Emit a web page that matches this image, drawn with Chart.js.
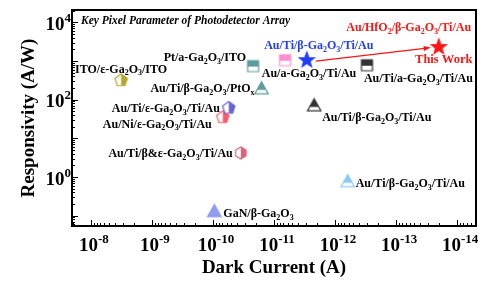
<!DOCTYPE html>
<html><head><meta charset="utf-8">
<script src="https://cdn.jsdelivr.net/npm/chart.js@4/dist/chart.umd.min.js"></script>
<style>html,body{margin:0;padding:0;background:#fff;overflow:hidden}canvas{display:block}</style>
</head><body>
<canvas id="c" width="501" height="282"></canvas>
<script>
// ---------- DATA ----------
const devices = ["ITO/ε-Ga_2O_3/ITO", "Pt/a-Ga_2O_3/ITO", "Au/Ti/β-Ga_2O_3/PtO_x", "Au/Ti/ε-Ga_2O_3/Ti/Au", "Au/Ni/ε-Ga_2O_3/Ti/Au", "Au/Ti/β&ε-Ga_2O_3/Ti/Au", "GaN/β-Ga_2O_3", "Au/a-Ga_2O_3/Ti/Au", "Au/Ti/β-Ga_2O_3/Ti/Au", "Au/HfO_2/β-Ga_2O_3/Ti/Au", "Au/Ti/a-Ga_2O_3/Ti/Au", "Au/Ti/β-Ga_2O_3/Ti/Au", "Au/Ti/β-Ga_2O_3/Ti/Au"];
const darkCurrent = [3.2e-9, 2.2e-11, 1.6e-11, 5.5e-11, 6.9e-11, 3.5e-11, 9.5e-11, 6.6e-12, 2.9e-12, 2.0e-14, 3.0e-13, 2.2e-12, 6.2e-13];
const responsivity = [316, 740, 187, 61, 35, 4.2, 0.125, 1050, 1050, 2290, 780, 68, 0.74];
const xTickExponents = [-8, -9, -10, -11, -12, -13, -14];
const yTickExponents = [0, 2, 4];
const chartTitle = "Key Pixel Parameter of Photodetector Array";
const xTitle = "Dark Current (A)";
const yTitle = "Responsivity (A/W)";
const thisWorkText = "This Work";
const thisWorkIndex = 9;
const arrowFromIndex = 8;

// ---------- STYLES ----------
const FONT = '"Liberation Serif","Times New Roman",serif';
const markerStyles = [
  {shape:'pent',  color:'#b5a52c', half:'right', size:13},
  {shape:'square',color:'#5e9c9c', half:'top',   size:11},
  {shape:'tri',   color:'#5e9c9c', half:'top',   size:15},
  {shape:'pent',  color:'#6666cc', half:'right', size:13},
  {shape:'pent',  color:'#f65c6c', half:'right', size:13},
  {shape:'hex',   color:'#e0607c', half:'right', size:12},
  {shape:'tri',   color:'#8e9cf2', half:'full',  size:15},
  {shape:'square',color:'#ff8ed0', half:'top',   size:11},
  {shape:'star',  color:'#1f3cff', half:'full',  size:16},
  {shape:'star',  color:'#ff1414', half:'full',  size:16},
  {shape:'square',color:'#333333', half:'top',   size:11},
  {shape:'tri',   color:'#333333', half:'top',   size:15},
  {shape:'tri',   color:'#8ccaf2', half:'top',   size:15}
];
const labelStyles = [
  {dx:0,   dy:-12, align:'center'},
  {dx:-7,  dy:-9,  align:'right'},
  {dx:-7,  dy:-1,  align:'right'},
  {dx:-9,  dy:0,   align:'right'},
  {dx:-11, dy:6,   align:'right'},
  {dx:-8,  dy:0,   align:'right'},
  {dx:9,   dy:1,   align:'left'},
  {dx:24,  dy:13,  align:'center'},
  {dx:12,  dy:-15, align:'center', color:'#1f3cff'},
  {dx:-30, dy:-20, align:'center', color:'#ff1414'},
  {dx:-3,  dy:13,  align:'left'},
  {dx:8,   dy:11,  align:'left'},
  {dx:8,   dy:1,   align:'left'}
];

function makeMarker(st){
  const S = Math.ceil(st.size + 4);
  const c = document.createElement('canvas'); c.width = S; c.height = S;
  const g = c.getContext('2d');
  const cx = S/2, cy = S/2, r = st.size/2;
  const p = new Path2D();
  const poly = (n, start, rad) => {
    for (let k=0;k<n;k++){ const a=(start+k*360/n)*Math.PI/180; const x=cx+rad*Math.cos(a), y=cy+rad*Math.sin(a); k?p.lineTo(x,y):p.moveTo(x,y);} p.closePath();
  };
  if (st.shape==='square') p.rect(cx-r, cy-r, 2*r, 2*r);
  else if (st.shape==='tri') { p.moveTo(cx, cy-r); p.lineTo(cx+r*0.9, cy+r*0.62); p.lineTo(cx-r*0.9, cy+r*0.62); p.closePath(); }
  else if (st.shape==='pent') poly(5, -90, r);
  else if (st.shape==='hex') poly(6, -90, r);
  else if (st.shape==='star') {
    for (let k=0;k<10;k++){ const rad = k%2? r*0.42 : r; const a=(-90+k*36)*Math.PI/180; const x=cx+rad*Math.cos(a), y=cy+rad*Math.sin(a); k?p.lineTo(x,y):p.moveTo(x,y);} p.closePath();
  }
  g.fillStyle = '#fff'; g.fill(p);
  g.save(); g.clip(p); g.fillStyle = st.color;
  if (st.half==='full') g.fillRect(0,0,S,S);
  else if (st.half==='top') g.fillRect(0,0,S, st.shape==='tri' ? cy+r*0.1 : cy+0.5);
  else if (st.half==='right') g.fillRect(cx,0,S,S);
  g.restore();
  g.strokeStyle = st.color; g.lineWidth = 1.2; g.lineJoin='miter'; g.stroke(p);
  return c;
}

function parseRich(t){
  const segs=[]; const re=/([_^])(\{[^}]*\}|.)/g; let last=0, m;
  while ((m = re.exec(t))) {
    if (m.index>last) segs.push({t:t.slice(last,m.index), k:'n'});
    let s=m[2]; if (s[0]==='{') s=s.slice(1,-1);
    segs.push({t:s, k:m[1]==='_'?'sub':'sup'}); last=re.lastIndex;
  }
  if (last<t.length) segs.push({t:t.slice(last), k:'n'});
  return segs;
}
function drawRich(ctx, text, x, y, o){
  const size=o.size, style=o.style||'', segs=parseRich(text);
  const fontFor = k => `${style} bold ${k==='n'?size:Math.round(size*(o.subScale||0.65))}px ${FONT}`;
  let w=0; segs.forEach(s=>{ctx.font=fontFor(s.k); s.w=ctx.measureText(s.t).width; w+=s.w;});
  let sx = o.align==='center'? x-w/2 : o.align==='right'? x-w : x;
  const base = y + size*0.35;
  ctx.fillStyle = o.color||'#000'; ctx.textBaseline='alphabetic'; ctx.textAlign='left';
  segs.forEach(s=>{
    ctx.font=fontFor(s.k);
    const by = s.k==='sub'? base+size*0.22 : s.k==='sup'? base-size*0.42 : base;
    ctx.fillText(s.t, sx, by); sx+=s.w;
  });
  return w;
}

const decorations = {
  id:'decorations',
  beforeDatasetsDraw(chart){
    const {ctx, chartArea:a, scales:{x, y}} = chart;
    ctx.save();
    ctx.strokeStyle='#000'; ctx.lineWidth=2;
    ctx.strokeRect(a.left, a.top, a.right-a.left, a.bottom-a.top);
    ctx.lineWidth=1;
    for (let d=-15; d<=-7; d++) for (let m=1;m<=9;m++){
      const v=m*Math.pow(10,d); if (v<x.min||v>x.max) continue;
      const px=Math.round(x.getPixelForValue(v))+0.5; const L = m===1?6:3;
      ctx.beginPath(); ctx.moveTo(px,a.bottom); ctx.lineTo(px,a.bottom-L); ctx.stroke();
    }
    for (let d=-2; d<=4; d++) for (let m=1;m<=9;m++){
      const v=m*Math.pow(10,d); if (v<y.min||v>y.max) continue;
      const py=Math.round(y.getPixelForValue(v))+0.5; const L = m===1?6:3;
      ctx.beginPath(); ctx.moveTo(a.left,py); ctx.lineTo(a.left+L,py); ctx.stroke();
    }
    xTickExponents.forEach(e=>{
      drawRich(ctx, '10^{'+e+'}', x.getPixelForValue(Math.pow(10,e))+3, a.bottom+18, {size:19, align:'center', subScale:0.7});
    });
    yTickExponents.forEach(e=>{
      drawRich(ctx, '10^{'+e+'}', a.left-1, y.getPixelForValue(Math.pow(10,e))+1, {size:19, align:'right', subScale:0.7});
    });
    drawRich(ctx, xTitle, (a.left+a.right)/2, 266, {size:19, align:'center'});
    ctx.save(); ctx.translate(27, (a.top+a.bottom)/2); ctx.rotate(-Math.PI/2);
    drawRich(ctx, yTitle, 0, 0, {size:19, align:'center'});
    ctx.restore();
    drawRich(ctx, chartTitle, a.left+9, a.top+10, {size:11.5, style:'italic', align:'left'});
    const p0 = chart.getDatasetMeta(arrowFromIndex).data[0], p1 = chart.getDatasetMeta(thisWorkIndex).data[0];
    const x0=p0.x+9, y0=p0.y+1, x1=p1.x-8, y1=p1.y+0.5;
    const ang=Math.atan2(y1-y0,x1-x0);
    ctx.strokeStyle='#ff1414'; ctx.fillStyle='#ff1414'; ctx.lineWidth=1.3;
    ctx.beginPath(); ctx.moveTo(x0,y0); ctx.lineTo(x1-4*Math.cos(ang), y1-4*Math.sin(ang)); ctx.stroke();
    ctx.beginPath(); ctx.moveTo(x1,y1);
    ctx.lineTo(x1-7*Math.cos(ang)+2.5*Math.sin(ang), y1-7*Math.sin(ang)-2.5*Math.cos(ang));
    ctx.lineTo(x1-7*Math.cos(ang)-2.5*Math.sin(ang), y1-7*Math.sin(ang)+2.5*Math.cos(ang));
    ctx.closePath(); ctx.fill();
    ctx.restore();
  },
  afterDatasetsDraw(chart){
    const ctx=chart.ctx; ctx.save();
    devices.forEach((name,i)=>{
      const pt=chart.getDatasetMeta(i).data[0]; const ls=labelStyles[i];
      drawRich(ctx, name, pt.x+ls.dx, pt.y+ls.dy, {size:12, align:ls.align, color:ls.color||'#000', subScale:0.68});
    });
    const pt=chart.getDatasetMeta(thisWorkIndex).data[0];
    drawRich(ctx, thisWorkText, pt.x+5, pt.y+12, {size:12.5, align:'center', color:'#ff1414'});
    ctx.restore();
  }
};

const datasets = devices.map((d,i)=>({
  label:d, data:[{x:darkCurrent[i], y:responsivity[i]}],
  pointStyle: makeMarker(markerStyles[i]), pointRadius:7, showLine:false, clip:false
}));

new Chart(document.getElementById('c'), {
  type:'scatter',
  data:{datasets},
  options:{
    responsive:false, animation:false, devicePixelRatio:1,
    layout:{padding:{left:72, right:25, top:10, bottom:56}},
    plugins:{legend:{display:false}, tooltip:{enabled:false}, title:{display:false}},
    scales:{
      x:{type:'logarithmic', reverse:true, min:4.9e-15, max:2.04e-8,
         grid:{display:false, drawTicks:false}, ticks:{display:false}, border:{display:false}, title:{display:false}},
      y:{type:'logarithmic', min:0.054, max:20900,
         grid:{display:false, drawTicks:false}, ticks:{display:false}, border:{display:false}, title:{display:false}}
    }
  },
  plugins:[decorations]
});
</script>
</body></html>
